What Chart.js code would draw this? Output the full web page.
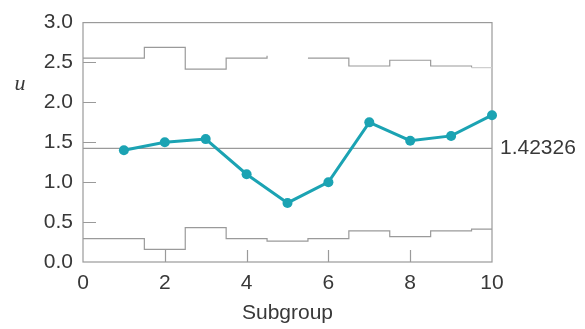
<!DOCTYPE html>
<html>
<head>
<meta charset="utf-8">
<script src="https://cdn.jsdelivr.net/npm/chart.js@4.4.1/dist/chart.umd.min.js"></script>
<style>
  html, body { margin: 0; padding: 0; background: #fff; }
  #wrap { width: 585px; height: 329px; position: relative; }
</style>
</head>
<body>
<div id="wrap"><canvas id="c"></canvas></div>
<script>
// u chart for nonconformities per unit, with variable-width control limits
const subgroups = [1, 2, 3, 4, 5, 6, 7, 8, 9, 10];
const uValues = [1.40, 1.50, 1.54, 1.10, 0.74, 1.00, 1.75, 1.52, 1.58, 1.84];
const centerValue = 1.42326;

// limit steps change halfway between subgroups
const limitEdges = [0, 1.5, 2.5, 3.5, 4.5, 5.5, 6.5, 7.5, 8.5, 9.5, 10];
const uclValues = [2.555, 2.689, 2.416, 2.555, 2.585, 2.555, 2.456, 2.528, 2.456, 2.436, 2.436];
const lclValues = [0.292, 0.158, 0.431, 0.292, 0.262, 0.292, 0.390, 0.319, 0.390, 0.411, 0.411];

const xTicks = [0, 2, 4, 6, 8, 10];
const yTicks = [0, 0.5, 1.0, 1.5, 2.0, 2.5, 3.0];

const TEAL = '#1ba3b3';
const GREY = '#9a9a9a';
const TEXT = '#383838';
const FONT = '"Liberation Sans", Arial, sans-serif';

const pts = (xs, ys) => xs.map((x, i) => ({ x: x, y: ys[i] }));

// frame, inward tick marks and side labels
const decor = {
  id: 'decor',
  beforeDatasetsDraw(chart) {
    const { ctx, chartArea: a, scales } = chart;
    ctx.save();
    ctx.strokeStyle = GREY;
    ctx.lineWidth = 1.2;
    ctx.strokeRect(a.left, a.top, a.right - a.left, a.bottom - a.top);
    ctx.beginPath();
    yTicks.slice(1, -1).forEach(v => {
      const y = Math.round(scales.y.getPixelForValue(v)) + 0.5;
      ctx.moveTo(a.left, y); ctx.lineTo(a.left + 13, y);
    });
    xTicks.slice(1, -1).forEach(v => {
      const x = Math.round(scales.x.getPixelForValue(v)) + 0.5;
      ctx.moveTo(x, a.bottom); ctx.lineTo(x, a.bottom - 12);
    });
    ctx.stroke();
    ctx.restore();
  },
  afterDraw(chart) {
    const { ctx, chartArea: a, scales } = chart;
    ctx.save();
    ctx.fillStyle = TEXT;
    ctx.textBaseline = 'middle';
    ctx.textAlign = 'left';
    ctx.font = '21px ' + FONT;
    ctx.fillText(String(centerValue), a.right + 8, scales.y.getPixelForValue(centerValue));
    ctx.font = 'italic 22px "Liberation Serif", "DejaVu Serif", serif';
    ctx.textAlign = 'center';
    ctx.fillText('u', 20, scales.y.getPixelForValue(2.23));
    ctx.restore();
  }
};

new Chart(document.getElementById('c'), {
  type: 'line',
  data: {
    datasets: [
      {
        label: 'u',
        data: pts(subgroups, uValues),
        borderColor: TEAL,
        backgroundColor: TEAL,
        borderWidth: 3,
        pointRadius: 5,
        pointBorderWidth: 0,
        pointBackgroundColor: TEAL,
        clip: false
      },
      {
        label: 'CL',
        data: pts([0, 10], [centerValue, centerValue]),
        borderColor: GREY,
        borderWidth: 1.3,
        pointRadius: 0
      },
      {
        label: 'UCL',
        data: pts(limitEdges, uclValues),
        stepped: 'before',
        borderColor: GREY,
        borderWidth: 1.2,
        pointRadius: 0,
        segment: {
          borderColor: c => c.p0DataIndex === 4 ? 'rgba(0,0,0,0)'
                          : (c.p0DataIndex === 9 ? '#cfcfcf' : GREY)
        }
      },
      {
        label: 'LCL',
        data: pts(limitEdges, lclValues),
        stepped: 'before',
        borderColor: GREY,
        borderWidth: 1.2,
        pointRadius: 0
      }
    ]
  },
  options: {
    responsive: true,
    maintainAspectRatio: false,
    animation: false,
    events: [],
    layout: { padding: { top: 21, right: 93, left: 0, bottom: 0 } },
    plugins: { legend: { display: false }, tooltip: { enabled: false } },
    scales: {
      x: {
        type: 'linear',
        min: 0, max: 10,
        afterFit: s => { s.height = 67; },
        afterBuildTicks: s => { s.ticks = xTicks.map(v => ({ value: v })); },
        grid: { display: false, drawTicks: false },
        border: { display: false },
        ticks: { color: TEXT, font: { family: FONT, size: 21 }, padding: 9, maxRotation: 0 },
        title: {
          display: true,
          text: 'Subgroup',
          color: TEXT,
          font: { family: FONT, size: 21 },
          padding: { top: 0, bottom: 3 }
        }
      },
      y: {
        type: 'linear',
        min: 0, max: 3,
        afterFit: s => { s.width = 83; },
        afterBuildTicks: s => { s.ticks = yTicks.map(v => ({ value: v })); },
        grid: { display: false, drawTicks: false },
        border: { display: false },
        ticks: {
          color: TEXT,
          font: { family: FONT, size: 21 },
          padding: 10,
          callback: v => Number(v).toFixed(1)
        }
      }
    }
  },
  plugins: [decor]
});
</script>
</body>
</html>
